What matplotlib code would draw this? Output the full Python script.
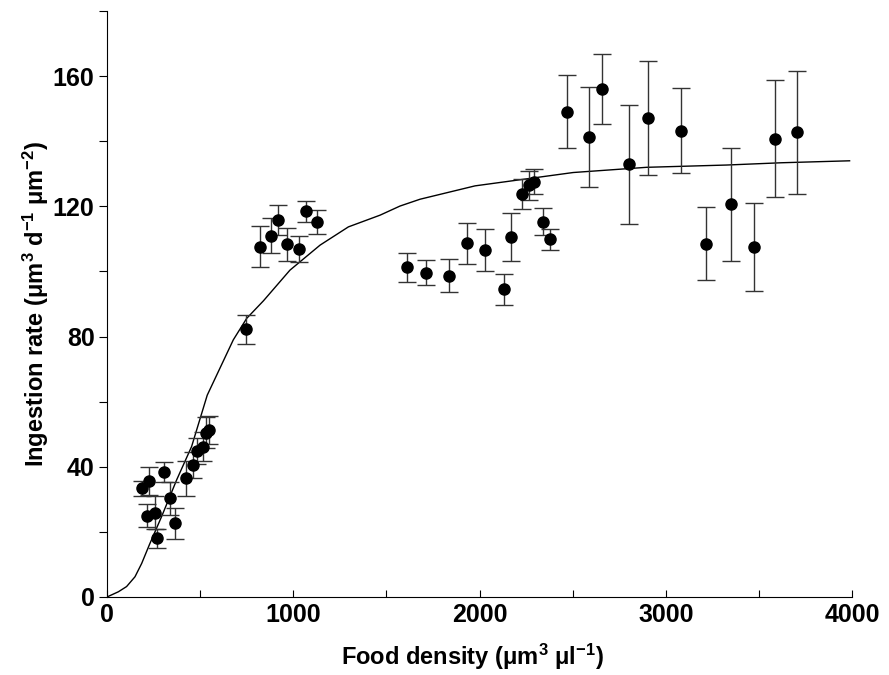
import matplotlib
matplotlib.use("Agg")
import matplotlib.pyplot as plt

plt.rcParams['font.family'] = ['Liberation Sans', 'DejaVu Sans']
plt.rcParams['font.weight'] = 'bold'
plt.rcParams['mathtext.fontset'] = 'custom'
plt.rcParams['mathtext.rm'] = 'Liberation Sans:bold'
plt.rcParams['mathtext.bf'] = 'Liberation Sans:bold'
plt.rcParams['mathtext.default'] = 'bf'

# Observed points
food = [189, 216, 227, 259, 266, 304, 338, 367, 424, 460, 485, 517, 532, 549,
        746, 820, 880, 920, 968, 1033, 1068, 1129,
        1609, 1711, 1834, 1931, 2031, 2129, 2167, 2228, 2268, 2293, 2339, 2379,
        2468, 2589, 2659, 2804, 2904, 3080, 3216, 3352, 3476, 3587, 3707]
rate = [33.4, 25.0, 35.7, 25.9, 18.0, 38.4, 30.3, 22.6, 36.4, 40.5, 44.9, 46.2, 50.5, 51.3,
        82.2, 107.6, 111.0, 115.8, 108.3, 106.8, 118.5, 115.2,
        101.3, 99.6, 98.7, 108.6, 106.6, 94.5, 110.7, 123.8, 126.5, 127.6, 115.3, 109.9,
        149.1, 141.3, 156.1, 132.9, 147.1, 143.3, 108.5, 120.6, 107.5, 140.8, 142.7]
err = [2.3, 3.5, 4.3, 5.0, 3.0, 3.0, 5.0, 4.8, 5.5, 4.0, 4.0, 4.5, 4.8, 4.2,
       4.4, 6.3, 5.3, 4.6, 5.0, 4.0, 3.2, 3.8,
       4.5, 3.8, 5.0, 6.2, 6.6, 4.8, 7.4, 4.6, 4.5, 3.9, 4.2, 3.2,
       11.3, 15.5, 10.8, 18.3, 17.6, 13.0, 11.2, 17.3, 13.4, 17.9, 18.9]

# Fitted curve
curve_x = [0, 61, 105, 150, 186, 227, 293, 374, 454, 538, 678, 750, 840, 982,
           1144, 1296, 1466, 1573, 1681, 1976, 2503, 2897, 3327, 3622, 3987]
curve_y = [0.0, 1.6, 3.2, 6.2, 10.3, 16.0, 24.7, 36.0, 46.2, 62.0, 79.0, 85.6, 91.0, 100.4,
           108.1, 113.7, 117.3, 120.1, 122.2, 126.3, 130.4, 132.0, 132.7, 133.4, 134.0]

fig = plt.figure(figsize=(8.89, 6.75), dpi=100)
ax = fig.add_axes([0.1204, 0.1156, 0.838, 0.868])

ax.plot(curve_x, curve_y, color='black', lw=1.0, zorder=2)
ax.errorbar(food, rate, yerr=err, fmt='o', color='black', ecolor='#333333',
            elinewidth=1.0, capsize=6.5, capthick=1.0, markersize=8, zorder=3)

ax.set_xlim(0, 4000)
ax.set_ylim(0, 180)
ax.spines['top'].set_visible(False)
ax.spines['right'].set_visible(False)

xt = list(range(0, 4001, 500))
ax.set_xticks(xt)
ax.set_xticklabels([str(v) if v % 1000 == 0 else '' for v in xt])
yt = list(range(0, 181, 20))
ax.set_yticks(yt)
ax.set_yticklabels([str(v) if v % 40 == 0 and v <= 160 else '' for v in yt])
ax.tick_params(axis='x', direction='in', length=5, labelsize=18, pad=4)
ax.tick_params(axis='y', direction='out', length=6, labelsize=18, pad=3)

ax.set_xlabel('Food density (μm$^{3}$ μl$^{-1}$)', fontsize=17, fontweight='bold')
ax.xaxis.set_label_coords(0.491, -0.077, transform=ax.transAxes)
ax.xaxis.label.set_va('top')
ax.set_ylabel('Ingestion rate (μm$^{3}$ d$^{-1}$ μm$^{-2}$)', fontsize=17, fontweight='bold', labelpad=1)

fig.savefig('out.png', dpi=100)
